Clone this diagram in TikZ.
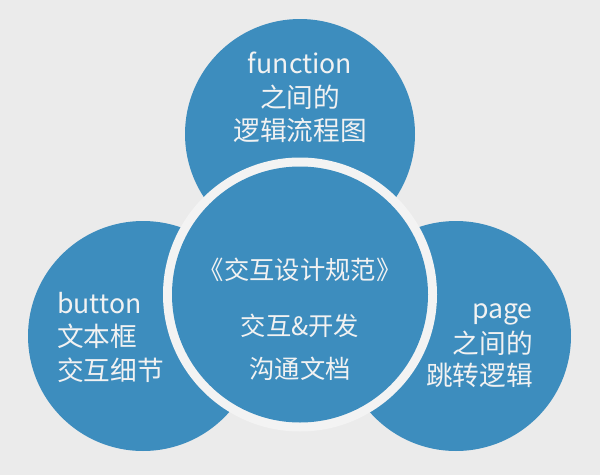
\documentclass[tikz,border=0pt]{standalone}
\usepackage{fontspec}
\newfontfamily\cjk{Noto Sans CJK SC}
\definecolor{bg}{HTML}{EBEBEB}
\definecolor{ringc}{HTML}{F3F3F3}
\definecolor{blu}{HTML}{3D8DBE}
\definecolor{txtc}{HTML}{F2F2F2}
\begin{document}
\begin{tikzpicture}[x=0.75pt,y=-0.75pt,
  bubble/.style={circle,fill=blu,draw=none,inner sep=0pt,minimum size=172.5pt},
  ringbox/.style={circle,fill=ringc,draw=none,inner sep=0pt,minimum size=205.5pt},
  core/.style={circle,fill=blu,draw=none,inner sep=0pt,minimum size=192pt},
  txt/.style={text=txtc,inner sep=0pt,font=\cjk\fontsize{20pt}{24pt}\selectfont},
  ctxt/.style={text=txtc,inner sep=0pt,font=\cjk\fontsize{19pt}{23pt}\selectfont}]
\fill[bg] (0,0) rectangle (600,475);
\useasboundingbox (0,0) rectangle (600,475);
\node[bubble] (top) at (300,134) {};
\node[bubble] (left) at (143,336) {};
\node[bubble] (right) at (456,336) {};
\node[ringbox] (ring) at (300,294.5) {};
\node[core] (center) at (300,294.5) {};
% top texts
\node[txt,anchor=base] (t1) at (300,73) {function};
\node[txt,anchor=base] (t2) at (300,107) {之间的};
\node[txt,anchor=base] (t3) at (300,140) {逻辑流程图};
% left texts
\node[txt,anchor=base west] (l1) at (57,313) {button};
\node[txt,anchor=base west] (l2) at (57,346) {文本框};
\node[txt,anchor=base west] (l3) at (57,380) {交互细节};
% right texts
\node[txt,anchor=base east] (r1) at (533,318) {page};
\node[txt,anchor=base east] (r2) at (533,353) {之间的};
\node[txt,anchor=base east] (r3) at (533,385) {跳转逻辑};
% center texts
\node[ctxt,anchor=base] (c1) at (300,279.5) {《交互设计规范》};
\node[ctxt,anchor=base] (c2) at (300,335) {交互\&开发};
\node[ctxt,anchor=base] (c3) at (300,378) {沟通文档};
\end{tikzpicture}
\end{document}
